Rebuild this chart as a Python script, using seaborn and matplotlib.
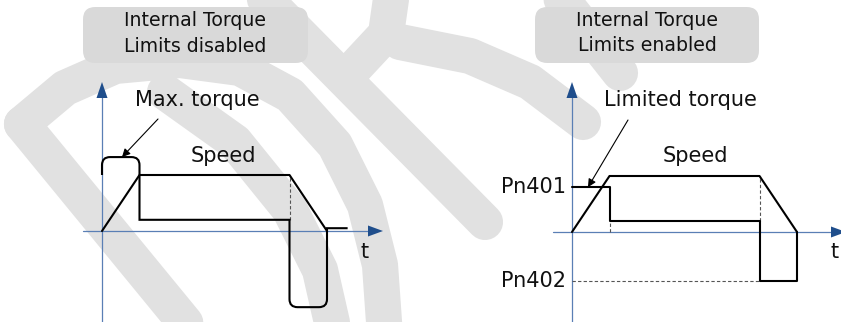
import matplotlib
matplotlib.use("Agg")
import matplotlib.pyplot as plt
import numpy as np
import seaborn as sns
from matplotlib.patches import FancyBboxPatch, Polygon, PathPatch
from matplotlib.path import Path

# speed profile (same in both panels): accelerate, run, decelerate
TIME = [0, 1, 5, 6]
SPEED = [0, 1.0, 1.0, 0]

# torque, internal limits disabled
TORQUE_OFF_T = [0, 0, 1, 1, 5, 5, 6, 6, 6.55]
TORQUE_OFF = [1.0, 1.32, 1.32, 0.2, 0.2, -1.36, -1.36, 0.05, 0.05]
ROUNDED_CORNERS = [1, 2, 5, 6]

# torque, internal limits enabled
PN401 = 0.8
PN402 = -0.875
TORQUE_ON_T = [0, 1, 1, 5, 5, 6, 6]
TORQUE_ON = [PN401, PN401, 0.2, 0.2, PN402, PN402, 0]

TITLES = [("Internal Torque", "Limits disabled"), ("Internal Torque", "Limits enabled")]

# light watermark strokes (pixel coords of the picture)
WATERMARK = [
    [(22, 124), (196, 336)],
    [(22, 124), (65, 88), (115, 66), (180, 60), (240, 68), (290, 95), (335, 145), (365, 205), (380, 265), (385, 336)],
    [(165, 92), (235, 142), (290, 210), (320, 270), (335, 336)],
    [(258, -8), (485, 222)],
    [(392, -8), (386, 34), (345, 78)],
    [(400, 42), (470, 56), (530, 82), (583, 122)],
    [(556, -8), (620, 73)],
]

W, H = 841, 322
PX_X, PX_Y = 37.5, 56.0  # pixels per data unit
AXIS_BLUE = "#5a7fb5"
HEAD_BLUE = "#1f4e8c"
BOX_GREY = "#d9d9d9"
MARK_GREY = "#e1e1e1"
LW = 1.5
FS = 15


def rounded_path(xs, ys, corners, r_px=8):
    rx, ry = r_px / PX_X, r_px / PX_Y
    verts = [(xs[0], ys[0])]
    codes = [Path.MOVETO]
    for i in range(1, len(xs)):
        cx, cy = xs[i], ys[i]
        if i in corners and i < len(xs) - 1:
            px, py = xs[i - 1], ys[i - 1]
            nx, ny = xs[i + 1], ys[i + 1]
            before = (cx + np.sign(px - cx) * rx, cy + np.sign(py - cy) * ry)
            after = (cx + np.sign(nx - cx) * rx, cy + np.sign(ny - cy) * ry)
            verts += [before, (cx, cy), after]
            codes += [Path.LINETO, Path.CURVE3, Path.CURVE3]
        else:
            verts.append((cx, cy))
            codes.append(Path.LINETO)
    return Path(verts, codes)


def draw_axes(ax, x_start, x_tip, y_tip, y_bottom):
    ax.plot([x_start, x_tip - 0.3], [0, 0], color=AXIS_BLUE, lw=0.9, zorder=2)
    ax.plot([0, 0], [y_bottom, y_tip - 0.2], color=AXIS_BLUE, lw=0.9, zorder=2)
    hl_x, hw_x = 15 / PX_X, 5.5 / PX_Y
    hl_y, hw_y = 16 / PX_Y, 5.5 / PX_X
    ax.add_patch(Polygon([(x_tip, 0), (x_tip - hl_x, hw_x), (x_tip - hl_x, -hw_x)],
                         closed=True, color=HEAD_BLUE, lw=0, zorder=3))
    ax.add_patch(Polygon([(0, y_tip), (-hw_y, y_tip - hl_y), (hw_y, y_tip - hl_y)],
                         closed=True, color=HEAD_BLUE, lw=0, zorder=3))


def title_box(ax, x0, x1, y0, y1, lines):
    box = FancyBboxPatch((x0, y0), x1 - x0, y1 - y0,
                         boxstyle="round,pad=0,rounding_size=0.33",
                         mutation_aspect=PX_X / PX_Y,
                         facecolor=BOX_GREY, edgecolor="none", zorder=1)
    ax.add_patch(box)
    xc = (x0 + x1) / 2
    ax.text(xc, y1 - 14 / PX_Y, lines[0], ha="center", va="center", fontsize=13.6, color="#111111", zorder=2)
    ax.text(xc, y1 - 39 / PX_Y, lines[1], ha="center", va="center", fontsize=13.6, color="#111111", zorder=2)


sns.set_theme(style="white")
plt.rcParams["font.family"] = ["DejaVu Sans"]

fig = plt.figure(figsize=(W / 100, H / 100), dpi=100)
fig.patch.set_facecolor("white")

# watermark layer
bg = fig.add_axes([0, 0, 1, 1])
bg.set_xlim(0, W)
bg.set_ylim(H, 0)
bg.axis("off")
for stroke in WATERMARK:
    xs, ys = zip(*stroke)
    bg.plot(xs, ys, color=MARK_GREY, lw=26, solid_capstyle="round", solid_joinstyle="round")

# left panel, origin at pixel (102, 231)
ox, oy = 102, 231
axl = fig.add_axes([0, 0, 420 / W, 1])
axl.set_xlim(-ox / PX_X, (420 - ox) / PX_X)
axl.set_ylim((oy - H) / PX_Y, oy / PX_Y)
axl.axis("off")
axl.patch.set_alpha(0)
draw_axes(axl, -19 / PX_X, (383 - ox) / PX_X, (oy - 82) / PX_Y, -1.8)
sns.lineplot(x=TIME, y=SPEED, ax=axl, color="black", lw=LW, sort=False, estimator=None, zorder=4)
axl.add_patch(PathPatch(rounded_path(TORQUE_OFF_T, TORQUE_OFF, ROUNDED_CORNERS),
                        facecolor="none", edgecolor="black", lw=LW, zorder=4))
axl.plot([TIME[2], TIME[2]], [TORQUE_OFF[3], SPEED[2]], color="#555555", lw=0.8, ls=(0, (3, 2)), zorder=3)
title_box(axl, (83 - ox) / PX_X, (308 - ox) / PX_X, (oy - 63) / PX_Y, (oy - 7) / PX_Y, TITLES[0])
axl.text((197 - ox) / PX_X, (oy - 100) / PX_Y, "Max. torque", ha="center", va="center", fontsize=FS, color="#111111")
axl.annotate("", xy=((122 - ox) / PX_X, TORQUE_OFF[1]), xytext=((158 - ox) / PX_X, (oy - 119) / PX_Y),
             arrowprops=dict(arrowstyle="-|>", lw=0.8, color="black", mutation_scale=12, shrinkA=0, shrinkB=0))
axl.text((223 - ox) / PX_X, (oy - 156) / PX_Y, "Speed", ha="center", va="center", fontsize=FS, color="#111111")
axl.text((365 - ox) / PX_X, (oy - 252) / PX_Y, "t", ha="center", va="center", fontsize=FS, color="#111111")

# right panel, origin at pixel (572, 232)
ox, oy = 572, 232
axr = fig.add_axes([420 / W, 0, (W - 420) / W, 1])
axr.set_xlim((420 - ox) / PX_X, (W - ox) / PX_X)
axr.set_ylim((oy - H) / PX_Y, oy / PX_Y)
axr.axis("off")
axr.patch.set_alpha(0)
draw_axes(axr, -19 / PX_X, (846 - ox) / PX_X, (oy - 82) / PX_Y, -1.8)
sns.lineplot(x=TIME, y=SPEED, ax=axr, color="black", lw=LW, sort=False, estimator=None, zorder=4)
sns.lineplot(x=TORQUE_ON_T, y=TORQUE_ON, ax=axr, color="black", lw=LW, sort=False, estimator=None, zorder=4)
dash = dict(color="#555555", lw=0.8, ls=(0, (3, 2)), zorder=3)
axr.plot([TIME[1], TIME[1]], [0, TORQUE_ON[2]], **dash)
axr.plot([TIME[2], TIME[2]], [TORQUE_ON[3], SPEED[2]], **dash)
axr.plot([0, TIME[2]], [PN402, PN402], **dash)
title_box(axr, (535 - ox) / PX_X, (759 - ox) / PX_X, (oy - 63) / PX_Y, (oy - 7) / PX_Y, TITLES[1])
axr.text((680 - ox) / PX_X, (oy - 100) / PX_Y, "Limited torque", ha="center", va="center", fontsize=FS, color="#111111")
axr.annotate("", xy=((588 - ox) / PX_X, PN401), xytext=((628 - ox) / PX_X, (oy - 120) / PX_Y),
             arrowprops=dict(arrowstyle="-|>", lw=0.8, color="black", mutation_scale=12, shrinkA=0, shrinkB=0))
axr.text((695 - ox) / PX_X, (oy - 156) / PX_Y, "Speed", ha="center", va="center", fontsize=FS, color="#111111")
axr.text((835 - ox) / PX_X, (oy - 252) / PX_Y, "t", ha="center", va="center", fontsize=FS, color="#111111")
axr.text((566 - ox) / PX_X, PN401, "Pn401", ha="right", va="center", fontsize=FS, color="#111111")
axr.text((566 - ox) / PX_X, PN402, "Pn402", ha="right", va="center", fontsize=FS, color="#111111")

fig.savefig("out.png", dpi=100, facecolor="white")
plt.close(fig)
